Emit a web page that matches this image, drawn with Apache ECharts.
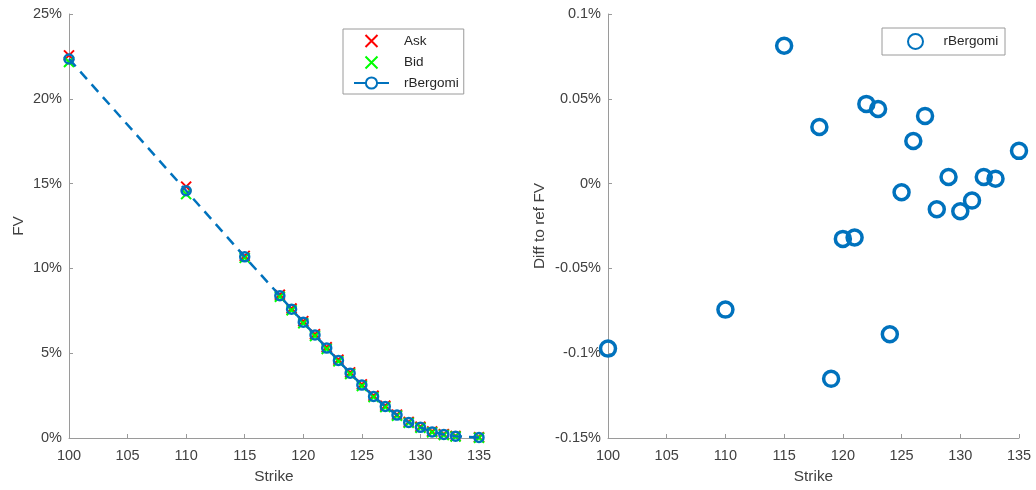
<!DOCTYPE html>
<html>
<head>
<meta charset="utf-8">
<title>rBergomi fair values vs. market quotes</title>
<script src="https://cdn.jsdelivr.net/npm/echarts@6/dist/echarts.min.js"></script>
<style>
  html, body { margin: 0; padding: 0; background: #fff; }
  #chart { width: 1036px; height: 490px; }
</style>
</head>
<body>
<div id="chart"></div>
<script>
// Strikes of the quoted options
const strikes = [100, 110, 115, 118, 119, 120, 121, 122, 123, 124, 125, 126, 127, 128, 129, 130, 131, 132, 133, 135];

// Fair values in percent of spot
const askFV = [22.56, 14.82, 10.74, 8.45, 7.64, 6.89, 6.12, 5.35, 4.62, 3.87, 3.16, 2.49, 1.90, 1.38, 0.95, 0.66, 0.38, 0.23, 0.12, 0.04];
const bidFV = [22.17, 14.38, 10.62, 8.33, 7.53, 6.77, 6.01, 5.25, 4.52, 3.77, 3.07, 2.41, 1.82, 1.31, 0.89, 0.60, 0.33, 0.18, 0.09, 0.01];
const rBergomiFV = [22.35, 14.58, 10.68, 8.39, 7.59, 6.83, 6.07, 5.30, 4.57, 3.82, 3.12, 2.45, 1.86, 1.35, 0.92, 0.63, 0.36, 0.21, 0.11, 0.03];

// Model minus reference fair value, in percent
const diffToRef = [-0.0973, -0.0743, 0.0813, 0.0334, -0.1151, -0.0326, -0.0318, 0.0470, 0.0440, -0.0888,
                   -0.0051, 0.0251, 0.0399, -0.0151, 0.0039, -0.0163, -0.0100, 0.0039, 0.0029, 0.0193];

const FONT = "'Liberation Sans', Arial, Helvetica, sans-serif";
const BLUE = '#0072BD';
const AXIS = '#9a9a9a';
const TEXT = '#404040';

const pairs = ys => strikes.map((k, i) => [k, ys[i]]);
const crossPath = 'path://M0,0L10,10M10,0L0,10';
const crossIcon = 'path://M0,0M35,14M11.5,1L23.5,13M23.5,1L11.5,13';

function xAxisFor(gridIndex) {
  return {
    gridIndex, type: 'value', min: 100, max: 135, interval: 5,
    name: 'Strike', nameLocation: 'middle', nameGap: 31,
    nameTextStyle: { color: TEXT, fontSize: 15.4, fontFamily: FONT },
    axisLine: { show: true, onZero: false, lineStyle: { color: AXIS, width: 1 } },
    axisTick: { show: true, inside: true, length: 4, lineStyle: { color: AXIS } },
    axisLabel: { color: TEXT, fontSize: 14.5, fontFamily: FONT, margin: 10 },
    splitLine: { show: false }
  };
}

const chart = echarts.init(document.getElementById('chart'), null, { renderer: 'canvas' });

chart.setOption({
  backgroundColor: '#fff',
  animation: false,
  grid: [
    { left: 69, top: 14, width: 410, height: 424 },
    { left: 608, top: 14, width: 411, height: 424 }
  ],
  xAxis: [xAxisFor(0), xAxisFor(1)],
  yAxis: [
    {
      gridIndex: 0, type: 'value', min: 0, max: 25, interval: 5,
      name: 'FV', nameLocation: 'middle', nameGap: 43,
      nameTextStyle: { color: TEXT, fontSize: 15.4, fontFamily: FONT },
      axisLine: { show: true, onZero: false, lineStyle: { color: AXIS, width: 1 } },
      axisTick: { show: true, inside: true, length: 4, lineStyle: { color: AXIS } },
      axisLabel: { color: TEXT, fontSize: 14.5, fontFamily: FONT, margin: 7, formatter: v => v + '%' },
      splitLine: { show: false }
    },
    {
      gridIndex: 1, type: 'value', min: -0.15, max: 0.1, interval: 0.05,
      name: 'Diff to ref FV', nameLocation: 'middle', nameGap: 61,
      nameTextStyle: { color: TEXT, fontSize: 15.4, fontFamily: FONT },
      axisLine: { show: true, onZero: false, lineStyle: { color: AXIS, width: 1 } },
      axisTick: { show: true, inside: true, length: 4, lineStyle: { color: AXIS } },
      axisLabel: { color: TEXT, fontSize: 14.5, fontFamily: FONT, margin: 7,
                   formatter: v => parseFloat(v.toFixed(4)) + '%' },
      splitLine: { show: false }
    }
  ],
  legend: [
    {
      orient: 'vertical', left: 343, top: 29,
      padding: [4, 5, 4, 10], itemGap: 5.5, itemWidth: 35, itemHeight: 14,
      borderColor: AXIS, borderWidth: 1, backgroundColor: '#fff',
      textStyle: { color: '#262626', fontSize: 13.5, fontFamily: FONT, padding: [0, 0, 0, 10] },
      data: [
        { name: 'Ask', icon: crossIcon },
        { name: 'Bid', icon: crossIcon },
        { name: 'rBergomi', itemStyle: { color: '#fff' }, lineStyle: { type: 'solid' } }
      ]
    },
    {
      orient: 'vertical', left: 882, top: 28,
      padding: [5, 3, 5, 25], itemWidth: 46, itemHeight: 15,
      borderColor: AXIS, borderWidth: 1, backgroundColor: '#fff',
      textStyle: { color: '#262626', fontSize: 13.5, fontFamily: FONT },
      data: [{ name: 'rBergomi ', icon: 'circle' }]
    }
  ],
  series: [
    {
      name: 'Ask', type: 'scatter', xAxisIndex: 0, yAxisIndex: 0,
      data: pairs(askFV), symbol: crossPath, symbolSize: 10,
      itemStyle: { color: '#ff0000', borderColor: '#ff0000', borderWidth: 2, opacity: 1 }
    },
    {
      name: 'Bid', type: 'scatter', xAxisIndex: 0, yAxisIndex: 0,
      data: pairs(bidFV), symbol: crossPath, symbolSize: 10,
      itemStyle: { color: '#00ff00', borderColor: '#00ff00', borderWidth: 2, opacity: 1 }
    },
    {
      name: 'rBergomi', type: 'line', xAxisIndex: 0, yAxisIndex: 0,
      data: pairs(rBergomiFV), symbol: 'circle', symbolSize: 9, showSymbol: true,
      lineStyle: { color: BLUE, width: 2.5, type: [10, 7] },
      itemStyle: { color: 'rgba(0,0,0,0)', borderColor: BLUE, borderWidth: 2.5 }
    },
    {
      name: 'rBergomi ', type: 'scatter', xAxisIndex: 1, yAxisIndex: 1,
      data: pairs(diffToRef), symbol: 'circle', symbolSize: 15,
      itemStyle: { color: 'rgba(0,0,0,0)', borderColor: BLUE, borderWidth: 3.5, opacity: 1 }
    }
  ]
});
</script>
</body>
</html>
